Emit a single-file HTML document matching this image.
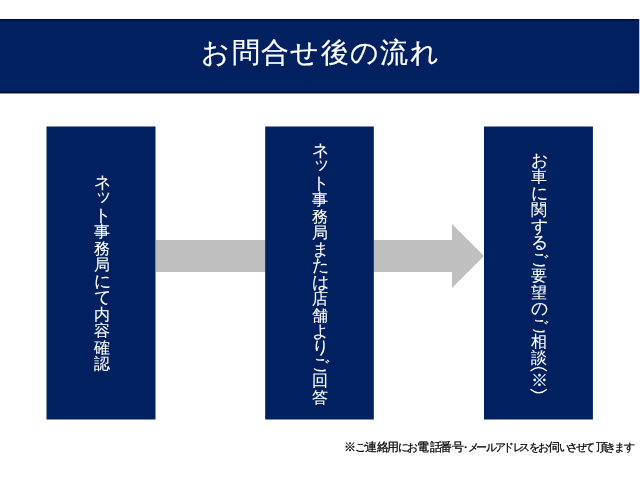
<!DOCTYPE html>
<html lang="ja">
<head>
<meta charset="utf-8">
<style>
html,body{margin:0;padding:0;background:#fff;width:640px;height:480px;overflow:hidden;position:relative;font-family:"Liberation Sans",sans-serif;-webkit-font-smoothing:antialiased;}
.hdr{position:absolute;left:0;top:19px;width:639px;height:75px;background:linear-gradient(to bottom,#000f38 0px,#000f38 1px,#001a4e 1px,#001a4e 3px,#00236c 3px,#00236c 4px,#002060 4px,#002060 70px,#00236c 70px,#00236c 71px,#001a50 71px,#001a50 73px,#000f38 73px,#000f38 74px,#8890a8 74px,#8890a8 75px);}
.edge{position:absolute;left:639px;top:19px;width:1px;height:74px;background:#b4c6f4;}
.title{position:absolute;left:0;top:33px;width:640px;height:40px;line-height:40px;text-align:center;color:#fff;font-size:28px;letter-spacing:1.3px;text-indent:1.3px;white-space:nowrap;-webkit-text-stroke:0.2px #fff;}
.box{position:absolute;top:127px;height:293px;width:109px;background:#002060;}
.bar{position:absolute;left:156px;top:240px;width:297px;height:32px;background:#bfbfbf;}
.col{position:absolute;width:40px;height:300px;}
.ch{position:absolute;left:0;width:40px;height:20px;line-height:16px;text-align:center;color:#fff;font-size:16px;-webkit-text-stroke:0.1px #fff;}
.note{position:absolute;top:440px;left:344px;width:300px;height:14px;font-size:11px;line-height:14px;color:#000;white-space:nowrap;-webkit-text-stroke:0.25px #000;}
.note span{position:absolute;top:0;}
.title,.col,.note,.kome{will-change:transform;}
</style>
</head>
<body>
<div class="hdr"></div>
<div class="edge"></div>
<div class="title">お問合せ後の流れ</div>
<div class="bar"></div>
<svg style="position:absolute;left:0;top:0" width="640" height="480"><polygon points="452,224 484,256 452,288" fill="#bfbfbf"/></svg>
<svg style="position:absolute;left:0;top:0" width="640" height="480"><rect x="46.5" y="126.5" width="109" height="293" fill="#002060"/><rect x="265.2" y="126.5" width="108.6" height="293" fill="#002060"/><rect x="484" y="126.5" width="108.9" height="293" fill="#002060"/></svg>
<div class="col" style="left:82.0px;top:175.0px"><div class="ch" style="top:0.00px;font-size:17px;">ネ</div><div class="ch" style="top:16.45px;font-size:17px;transform:translate(1.0px,-3.5px);">ッ</div><div class="ch" style="top:32.90px;font-size:17px;">ト</div><div class="ch" style="top:49.35px;">事</div><div class="ch" style="top:65.80px;">務</div><div class="ch" style="top:82.25px;">局</div><div class="ch" style="top:98.70px;font-size:17px;">に</div><div class="ch" style="top:115.15px;font-size:17px;">て</div><div class="ch" style="top:131.60px;">内</div><div class="ch" style="top:148.05px;">容</div><div class="ch" style="top:164.50px;">確</div><div class="ch" style="top:180.95px;">認</div></div>
<div class="col" style="left:300.0px;top:143.0px"><div class="ch" style="top:0.00px;font-size:17px;">ネ</div><div class="ch" style="top:16.45px;font-size:17px;transform:translate(1.0px,-3.5px);">ッ</div><div class="ch" style="top:32.90px;font-size:17px;">ト</div><div class="ch" style="top:49.35px;">事</div><div class="ch" style="top:65.80px;">務</div><div class="ch" style="top:82.25px;">局</div><div class="ch" style="top:98.70px;font-size:17px;">ま</div><div class="ch" style="top:115.15px;font-size:17px;">た</div><div class="ch" style="top:131.60px;font-size:17px;">は</div><div class="ch" style="top:148.05px;">店</div><div class="ch" style="top:164.50px;">舗</div><div class="ch" style="top:180.95px;font-size:17px;">よ</div><div class="ch" style="top:197.40px;font-size:17px;">り</div><div class="ch" style="top:213.85px;font-size:17px;">ご</div><div class="ch" style="top:230.30px;">回</div><div class="ch" style="top:246.75px;">答</div></div>
<div class="col" style="left:519.0px;top:153.0px"><div class="ch" style="top:0.00px;font-size:17px;">お</div><div class="ch" style="top:16.45px;">車</div><div class="ch" style="top:32.90px;font-size:17px;">に</div><div class="ch" style="top:49.35px;">関</div><div class="ch" style="top:65.80px;font-size:17px;">す</div><div class="ch" style="top:82.25px;font-size:17px;">る</div><div class="ch" style="top:98.70px;font-size:17px;">ご</div><div class="ch" style="top:115.15px;">要</div><div class="ch" style="top:131.60px;">望</div><div class="ch" style="top:148.05px;font-size:17px;">の</div><div class="ch" style="top:164.50px;font-size:17px;">ご</div><div class="ch" style="top:180.95px;">相</div><div class="ch" style="top:197.40px;">談</div></div>
<div class="ch kome" style="left:519px;top:372.0px;font-size:17px;line-height:17px">※</div>
<svg style="position:absolute;left:0;top:0" width="640" height="480" fill="none" stroke="#fff" stroke-width="1.3"><path d="M530.5,371 Q538.7,364 547,371"/><path d="M530.5,389.3 Q538.7,396.3 547,389.3"/></svg>
<div class="note"><span style="left:-0.3px;font-size:12px">※</span><span style="left:10.5px">ご</span><span style="left:20.7px;font-size:12px">連</span><span style="left:33.0px;font-size:12px">絡</span><span style="left:42.8px;font-size:12px">用</span><span style="left:53.8px">に</span><span style="left:63.1px">お</span><span style="left:72.8px;font-size:12px">電</span><span style="left:85.5px;font-size:12px">話</span><span style="left:95.5px;font-size:12px">番</span><span style="left:107.6px;font-size:12px">号</span><span style="left:115.8px">・</span><span style="left:123.5px">メ</span><span style="left:132.1px">ー</span><span style="left:141.9px">ル</span><span style="left:150.7px">ア</span><span style="left:159.0px">ド</span><span style="left:168.8px">レ</span><span style="left:175.3px">ス</span><span style="left:185.4px">を</span><span style="left:193.5px">お</span><span style="left:203.5px;font-size:12px">伺</span><span style="left:214.8px">い</span><span style="left:222.8px">さ</span><span style="left:231.5px">せ</span><span style="left:239.6px">て</span><span style="left:251.5px;font-size:12px">頂</span><span style="left:261.0px">き</span><span style="left:269.5px">ま</span><span style="left:280.0px">す</span></div>
</body>
</html>
